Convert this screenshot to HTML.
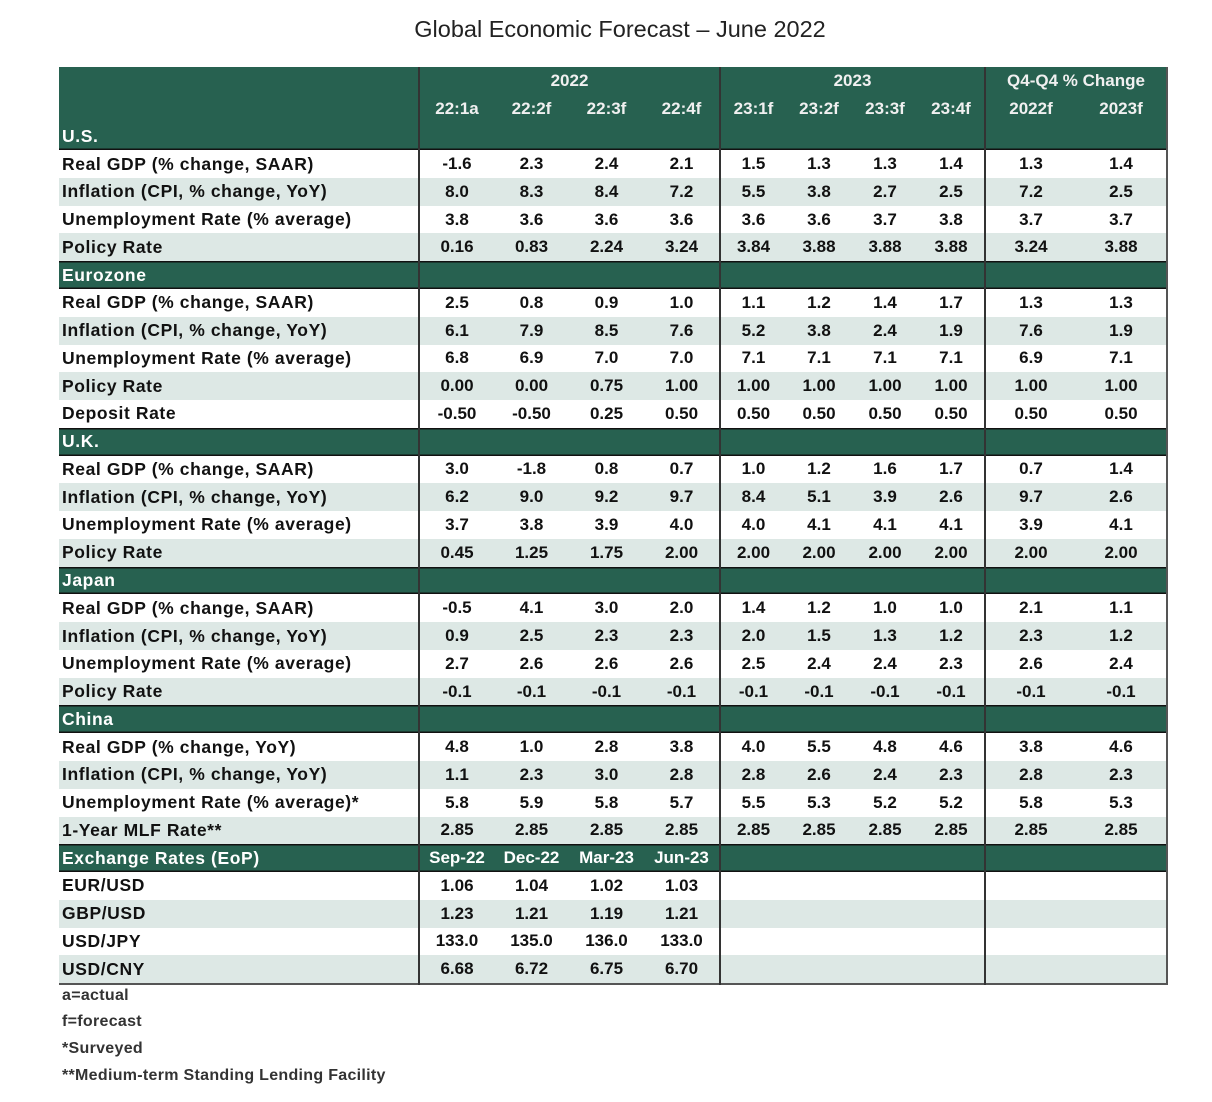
<!DOCTYPE html>
<html><head><meta charset="utf-8"><style>
body{margin:0;background:#fff;width:1212px;height:1102px;position:relative;font-family:"Liberation Sans",sans-serif;}
.title{position:absolute;top:16px;left:0;width:1240px;text-align:center;font-size:23.5px;color:#222;}
table{position:absolute;left:59px;top:67px;border-collapse:collapse;table-layout:fixed;font-weight:bold;font-size:17px;color:#111;}
td{padding:0;height:27.77px;text-align:center;white-space:nowrap;overflow:hidden;}
td.l{text-align:left;padding-left:3px;font-size:17.5px;letter-spacing:0.6px;}
.g td{background:#276150;color:#fff;box-shadow:inset 0 1.5px #111,inset 0 -1.5px #111;}
tr.a td{background:#dde8e5;}
.v{border-left:2px solid #333;}
.hd td{background:#276150;color:#f0f0f0;height:27.7px;}
.foot{position:absolute;left:62px;font-size:16px;font-weight:bold;color:#333;letter-spacing:0.3px;}
</style></head><body>
<div class="title">Global Economic Forecast – June 2022</div>
<table style="border-right:2px solid #555;border-bottom:2px solid #555;">
<colgroup><col style="width:360px"><col style="width:75px"><col style="width:75px"><col style="width:75px"><col style="width:76px"><col style="width:66px"><col style="width:66px"><col style="width:66px"><col style="width:67px"><col style="width:91px"><col style="width:91px"></colgroup>
<tr class="hd"><td></td><td class="v" colspan="4">2022</td><td class="v" colspan="4">2023</td><td class="v" colspan="2">Q4-Q4 % Change</td></tr>
<tr class="hd"><td></td><td class="v">22:1a</td><td>22:2f</td><td>22:3f</td><td>22:4f</td><td class="v">23:1f</td><td>23:2f</td><td>23:3f</td><td>23:4f</td><td class="v">2022f</td><td>2023f</td></tr>
<tr class="g"><td class="l" style="box-shadow:inset 0 -1.5px #111">U.S.</td><td class="v" colspan="4" style="box-shadow:inset 0 -1.5px #111"></td><td class="v" colspan="4" style="box-shadow:inset 0 -1.5px #111"></td><td class="v" colspan="2" style="box-shadow:inset 0 -1.5px #111"></td></tr>
<tr><td class="l">Real GDP (% change, SAAR)</td><td class="v">-1.6</td><td>2.3</td><td>2.4</td><td>2.1</td><td class="v">1.5</td><td>1.3</td><td>1.3</td><td>1.4</td><td class="v">1.3</td><td>1.4</td></tr>
<tr class="a"><td class="l">Inflation (CPI, % change, YoY)</td><td class="v">8.0</td><td>8.3</td><td>8.4</td><td>7.2</td><td class="v">5.5</td><td>3.8</td><td>2.7</td><td>2.5</td><td class="v">7.2</td><td>2.5</td></tr>
<tr><td class="l">Unemployment Rate (% average)</td><td class="v">3.8</td><td>3.6</td><td>3.6</td><td>3.6</td><td class="v">3.6</td><td>3.6</td><td>3.7</td><td>3.8</td><td class="v">3.7</td><td>3.7</td></tr>
<tr class="a"><td class="l">Policy Rate</td><td class="v">0.16</td><td>0.83</td><td>2.24</td><td>3.24</td><td class="v">3.84</td><td>3.88</td><td>3.88</td><td>3.88</td><td class="v">3.24</td><td>3.88</td></tr>
<tr class="g"><td class="l">Eurozone</td><td class="v" colspan="4"></td><td class="v" colspan="4"></td><td class="v" colspan="2"></td></tr>
<tr><td class="l">Real GDP (% change, SAAR)</td><td class="v">2.5</td><td>0.8</td><td>0.9</td><td>1.0</td><td class="v">1.1</td><td>1.2</td><td>1.4</td><td>1.7</td><td class="v">1.3</td><td>1.3</td></tr>
<tr class="a"><td class="l">Inflation (CPI, % change, YoY)</td><td class="v">6.1</td><td>7.9</td><td>8.5</td><td>7.6</td><td class="v">5.2</td><td>3.8</td><td>2.4</td><td>1.9</td><td class="v">7.6</td><td>1.9</td></tr>
<tr><td class="l">Unemployment Rate (% average)</td><td class="v">6.8</td><td>6.9</td><td>7.0</td><td>7.0</td><td class="v">7.1</td><td>7.1</td><td>7.1</td><td>7.1</td><td class="v">6.9</td><td>7.1</td></tr>
<tr class="a"><td class="l">Policy Rate</td><td class="v">0.00</td><td>0.00</td><td>0.75</td><td>1.00</td><td class="v">1.00</td><td>1.00</td><td>1.00</td><td>1.00</td><td class="v">1.00</td><td>1.00</td></tr>
<tr><td class="l">Deposit Rate</td><td class="v">-0.50</td><td>-0.50</td><td>0.25</td><td>0.50</td><td class="v">0.50</td><td>0.50</td><td>0.50</td><td>0.50</td><td class="v">0.50</td><td>0.50</td></tr>
<tr class="g"><td class="l">U.K.</td><td class="v" colspan="4"></td><td class="v" colspan="4"></td><td class="v" colspan="2"></td></tr>
<tr><td class="l">Real GDP (% change, SAAR)</td><td class="v">3.0</td><td>-1.8</td><td>0.8</td><td>0.7</td><td class="v">1.0</td><td>1.2</td><td>1.6</td><td>1.7</td><td class="v">0.7</td><td>1.4</td></tr>
<tr class="a"><td class="l">Inflation (CPI, % change, YoY)</td><td class="v">6.2</td><td>9.0</td><td>9.2</td><td>9.7</td><td class="v">8.4</td><td>5.1</td><td>3.9</td><td>2.6</td><td class="v">9.7</td><td>2.6</td></tr>
<tr><td class="l">Unemployment Rate (% average)</td><td class="v">3.7</td><td>3.8</td><td>3.9</td><td>4.0</td><td class="v">4.0</td><td>4.1</td><td>4.1</td><td>4.1</td><td class="v">3.9</td><td>4.1</td></tr>
<tr class="a"><td class="l">Policy Rate</td><td class="v">0.45</td><td>1.25</td><td>1.75</td><td>2.00</td><td class="v">2.00</td><td>2.00</td><td>2.00</td><td>2.00</td><td class="v">2.00</td><td>2.00</td></tr>
<tr class="g"><td class="l">Japan</td><td class="v" colspan="4"></td><td class="v" colspan="4"></td><td class="v" colspan="2"></td></tr>
<tr><td class="l">Real GDP (% change, SAAR)</td><td class="v">-0.5</td><td>4.1</td><td>3.0</td><td>2.0</td><td class="v">1.4</td><td>1.2</td><td>1.0</td><td>1.0</td><td class="v">2.1</td><td>1.1</td></tr>
<tr class="a"><td class="l">Inflation (CPI, % change, YoY)</td><td class="v">0.9</td><td>2.5</td><td>2.3</td><td>2.3</td><td class="v">2.0</td><td>1.5</td><td>1.3</td><td>1.2</td><td class="v">2.3</td><td>1.2</td></tr>
<tr><td class="l">Unemployment Rate (% average)</td><td class="v">2.7</td><td>2.6</td><td>2.6</td><td>2.6</td><td class="v">2.5</td><td>2.4</td><td>2.4</td><td>2.3</td><td class="v">2.6</td><td>2.4</td></tr>
<tr class="a"><td class="l">Policy Rate</td><td class="v">-0.1</td><td>-0.1</td><td>-0.1</td><td>-0.1</td><td class="v">-0.1</td><td>-0.1</td><td>-0.1</td><td>-0.1</td><td class="v">-0.1</td><td>-0.1</td></tr>
<tr class="g"><td class="l">China</td><td class="v" colspan="4"></td><td class="v" colspan="4"></td><td class="v" colspan="2"></td></tr>
<tr><td class="l">Real GDP (% change, YoY)</td><td class="v">4.8</td><td>1.0</td><td>2.8</td><td>3.8</td><td class="v">4.0</td><td>5.5</td><td>4.8</td><td>4.6</td><td class="v">3.8</td><td>4.6</td></tr>
<tr class="a"><td class="l">Inflation (CPI, % change, YoY)</td><td class="v">1.1</td><td>2.3</td><td>3.0</td><td>2.8</td><td class="v">2.8</td><td>2.6</td><td>2.4</td><td>2.3</td><td class="v">2.8</td><td>2.3</td></tr>
<tr><td class="l">Unemployment Rate (% average)*</td><td class="v">5.8</td><td>5.9</td><td>5.8</td><td>5.7</td><td class="v">5.5</td><td>5.3</td><td>5.2</td><td>5.2</td><td class="v">5.8</td><td>5.3</td></tr>
<tr class="a"><td class="l">1-Year MLF Rate**</td><td class="v">2.85</td><td>2.85</td><td>2.85</td><td>2.85</td><td class="v">2.85</td><td>2.85</td><td>2.85</td><td>2.85</td><td class="v">2.85</td><td>2.85</td></tr>
<tr class="g"><td class="l">Exchange Rates (EoP)</td><td class="v">Sep-22</td><td>Dec-22</td><td>Mar-23</td><td>Jun-23</td><td class="v" colspan="4"></td><td class="v" colspan="2"></td></tr>
<tr><td class="l">EUR/USD</td><td class="v">1.06</td><td>1.04</td><td>1.02</td><td>1.03</td><td class="v" colspan="4"></td><td class="v" colspan="2"></td></tr>
<tr class="a"><td class="l">GBP/USD</td><td class="v">1.23</td><td>1.21</td><td>1.19</td><td>1.21</td><td class="v" colspan="4"></td><td class="v" colspan="2"></td></tr>
<tr><td class="l">USD/JPY</td><td class="v">133.0</td><td>135.0</td><td>136.0</td><td>133.0</td><td class="v" colspan="4"></td><td class="v" colspan="2"></td></tr>
<tr class="a"><td class="l">USD/CNY</td><td class="v">6.68</td><td>6.72</td><td>6.75</td><td>6.70</td><td class="v" colspan="4"></td><td class="v" colspan="2"></td></tr>
</table>
<div class="foot" style="top:987px">a=actual</div>
<div class="foot" style="top:1013px">f=forecast</div>
<div class="foot" style="top:1040px">*Surveyed</div>
<div class="foot" style="top:1067px">**Medium-term Standing Lending Facility</div>
</body></html>
